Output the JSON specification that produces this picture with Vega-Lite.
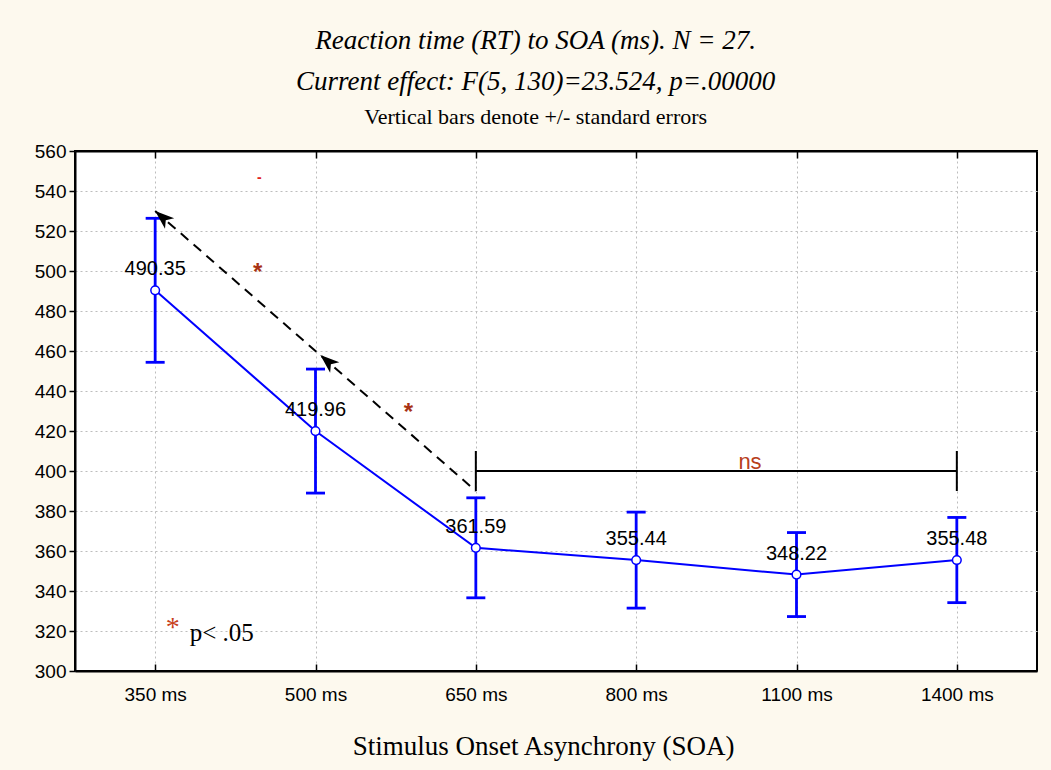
{
  "$schema": "https://vega.github.io/schema/vega-lite/v6.json",
  "width": 962,
  "height": 520,
  "autosize": {"type": "none"},
  "padding": {"left": 75, "top": 151, "right": 14, "bottom": 99},
  "background": "#FDF9EE",
  "title": {
    "text": ["Reaction time (RT) to SOA (ms). N = 27.", "Current effect: F(5, 130)=23.524, p=.00000"],
    "subtitle": "Vertical bars denote +/- standard errors",
    "anchor": "middle",
    "frame": "bounds",
    "offset": 13,
    "font": "Liberation Serif",
    "fontStyle": "italic",
    "fontWeight": "normal",
    "fontSize": 27,
    "lineHeight": 41,
    "color": "black",
    "subtitleFont": "Liberation Serif",
    "subtitleFontSize": 22,
    "subtitleColor": "black",
    "subtitlePadding": 11
  },
  "config": {
    "view": {"fill": "white", "stroke": "black", "strokeWidth": 2},
    "axis": {
      "labelFont": "Liberation Sans",
      "labelFontSize": 19,
      "labelColor": "black",
      "domainColor": "black",
      "domainWidth": 2,
      "tickColor": "black",
      "tickWidth": 1.5,
      "gridColor": "#BDBDBD",
      "gridDash": [2, 3],
      "gridWidth": 1
    }
  },
  "datasets": {
    "means": [
      {"SOA": "350 ms", "i": 0, "RT": 490.35, "lo": 454.35, "hi": 526.35},
      {"SOA": "500 ms", "i": 1, "RT": 419.96, "lo": 388.96, "hi": 450.96},
      {"SOA": "650 ms", "i": 2, "RT": 361.59, "lo": 336.59, "hi": 386.59},
      {"SOA": "800 ms", "i": 3, "RT": 355.44, "lo": 331.44, "hi": 379.44},
      {"SOA": "1100 ms", "i": 4, "RT": 348.22, "lo": 327.22, "hi": 369.22},
      {"SOA": "1400 ms", "i": 5, "RT": 355.48, "lo": 334.18, "hi": 376.78}
    ],
    "arrow": [
      {"i": 2, "v": 390},
      {"i": 0, "v": 530}
    ],
    "heads": [
      {"i": 0, "v": 530},
      {"i": 1.03, "v": 458}
    ],
    "bracket": [
      {"i": 2, "i2": 5, "v": 400, "v2": 400},
      {"i": 2, "i2": 2, "v": 390, "v2": 410},
      {"i": 5, "i2": 5, "v": 390, "v2": 410}
    ]
  },
  "resolve": {"axis": {"x": "independent", "y": "independent"}},
  "layer": [
    {
      "data": {"name": "means"},
      "mark": {"type": "line", "color": "#0000FF", "strokeWidth": 2},
      "encoding": {
        "x": {
          "field": "i", "type": "quantitative",
          "scale": {"domain": [-0.5, 5.5], "nice": false, "zero": false},
          "axis": {
            "orient": "bottom",
            "values": [0, 1, 2, 3, 4, 5],
            "labelExpr": "['350 ms','500 ms','650 ms','800 ms','1100 ms','1400 ms'][datum.value]",
            "tickSize": -7,
            "labelPadding": 21,
            "grid": true,
            "title": "Stimulus Onset Asynchrony (SOA)",
            "titleFont": "Liberation Serif",
            "titleFontSize": 27,
            "titleFontWeight": "normal",
            "titleColor": "black",
            "titleX": 468,
            "titleY": 83,
            "titleBaseline": "alphabetic"
          }
        },
        "y": {
          "field": "RT", "type": "quantitative",
          "scale": {"domain": [300, 560], "nice": false, "zero": false},
          "axis": {
            "values": [300, 320, 340, 360, 380, 400, 420, 440, 460, 480, 500, 520, 540, 560],
            "tickSize": 6,
            "labelPadding": 3,
            "grid": true,
            "title": null
          }
        }
      }
    },
    {
      "data": {"name": "means"},
      "mark": {"type": "rule", "color": "#0000FF", "strokeWidth": 2.8},
      "encoding": {
        "x": {"field": "i", "type": "quantitative", "axis": null},
        "y": {"field": "lo", "type": "quantitative", "axis": null},
        "y2": {"field": "hi"}
      }
    },
    {
      "data": {"name": "means"},
      "mark": {"type": "tick", "orient": "horizontal", "color": "#0000FF", "size": 19, "thickness": 2.8, "opacity": 1},
      "encoding": {
        "x": {"field": "i", "type": "quantitative", "axis": null},
        "y": {"field": "lo", "type": "quantitative", "axis": null}
      }
    },
    {
      "data": {"name": "means"},
      "mark": {"type": "tick", "orient": "horizontal", "color": "#0000FF", "size": 19, "thickness": 2.8, "opacity": 1},
      "encoding": {
        "x": {"field": "i", "type": "quantitative", "axis": null},
        "y": {"field": "hi", "type": "quantitative", "axis": null}
      }
    },
    {
      "data": {"name": "means"},
      "mark": {"type": "point", "filled": true, "fill": "white", "stroke": "#0000FF", "strokeWidth": 1.5, "size": 75, "opacity": 1},
      "encoding": {
        "x": {
          "field": "i", "type": "quantitative",
          "axis": {"orient": "top", "values": [0, 1, 2, 3, 4, 5], "labels": false, "grid": false, "tickSize": -7, "title": null}
        },
        "y": {"field": "RT", "type": "quantitative", "axis": null}
      }
    },
    {
      "data": {"name": "means"},
      "mark": {"type": "text", "font": "Liberation Sans", "fontSize": 20, "color": "black", "dy": -21, "baseline": "middle"},
      "encoding": {
        "x": {"field": "i", "type": "quantitative", "axis": null},
        "y": {"field": "RT", "type": "quantitative", "axis": null},
        "text": {"field": "RT", "type": "quantitative", "format": ".2f"}
      }
    },
    {
      "data": {"name": "arrow"},
      "mark": {"type": "line", "color": "black", "strokeWidth": 2, "strokeDash": [10, 7]},
      "encoding": {
        "x": {"field": "i", "type": "quantitative", "axis": null},
        "y": {"field": "v", "type": "quantitative", "axis": null},
        "order": {"field": "i"}
      }
    },
    {
      "data": {"name": "heads"},
      "mark": {"type": "point", "shape": "M0,0L0.55,1.5L0,1.1L-0.55,1.5Z", "filled": true, "color": "black", "opacity": 1, "size": 650, "angle": 311},
      "encoding": {
        "x": {"field": "i", "type": "quantitative", "axis": null},
        "y": {"field": "v", "type": "quantitative", "axis": null}
      }
    },
    {
      "data": {"name": "bracket"},
      "mark": {"type": "rule", "color": "black", "strokeWidth": 2},
      "encoding": {
        "x": {"field": "i", "type": "quantitative", "axis": null},
        "x2": {"field": "i2"},
        "y": {"field": "v", "type": "quantitative", "axis": null},
        "y2": {"field": "v2"}
      }
    },
    {
      "data": {"values": [{"i": 3.71, "v": 404.5, "label": "ns"}]},
      "mark": {"type": "text", "font": "Liberation Sans", "fontSize": 22, "color": "#B8401A", "baseline": "middle"},
      "encoding": {
        "x": {"field": "i", "type": "quantitative", "axis": null},
        "y": {"field": "v", "type": "quantitative", "axis": null},
        "text": {"field": "label"}
      }
    },
    {
      "data": {"values": [{"i": 0.64, "v": 501.5, "label": "*"}, {"i": 1.58, "v": 431.5, "label": "*"}]},
      "mark": {"type": "text", "font": "Liberation Sans", "fontSize": 24, "fontWeight": "bold", "color": "#A83214", "baseline": "middle", "dy": 5},
      "encoding": {
        "x": {"field": "i", "type": "quantitative", "axis": null},
        "y": {"field": "v", "type": "quantitative", "axis": null},
        "text": {"field": "label"}
      }
    },
    {
      "data": {"values": [{"i": 0.65, "v": 546.5, "label": "-"}]},
      "mark": {"type": "text", "font": "Liberation Sans", "fontSize": 14, "fontWeight": "bold", "color": "#E02020", "baseline": "middle"},
      "encoding": {
        "x": {"field": "i", "type": "quantitative", "axis": null},
        "y": {"field": "v", "type": "quantitative", "axis": null},
        "text": {"field": "label"}
      }
    },
    {
      "data": {"values": [{"i": 0.11, "v": 324.5, "label": "*"}]},
      "mark": {"type": "text", "font": "Liberation Serif", "fontSize": 28, "color": "#C8401A", "baseline": "middle", "dy": 6},
      "encoding": {
        "x": {"field": "i", "type": "quantitative", "axis": null},
        "y": {"field": "v", "type": "quantitative", "axis": null},
        "text": {"field": "label"}
      }
    },
    {
      "data": {"values": [{"i": 0.215, "v": 319, "label": "p< .05"}]},
      "mark": {"type": "text", "font": "Liberation Serif", "fontSize": 25, "color": "black", "baseline": "middle", "align": "left"},
      "encoding": {
        "x": {"field": "i", "type": "quantitative", "axis": null},
        "y": {"field": "v", "type": "quantitative", "axis": null},
        "text": {"field": "label"}
      }
    }
  ]
}
